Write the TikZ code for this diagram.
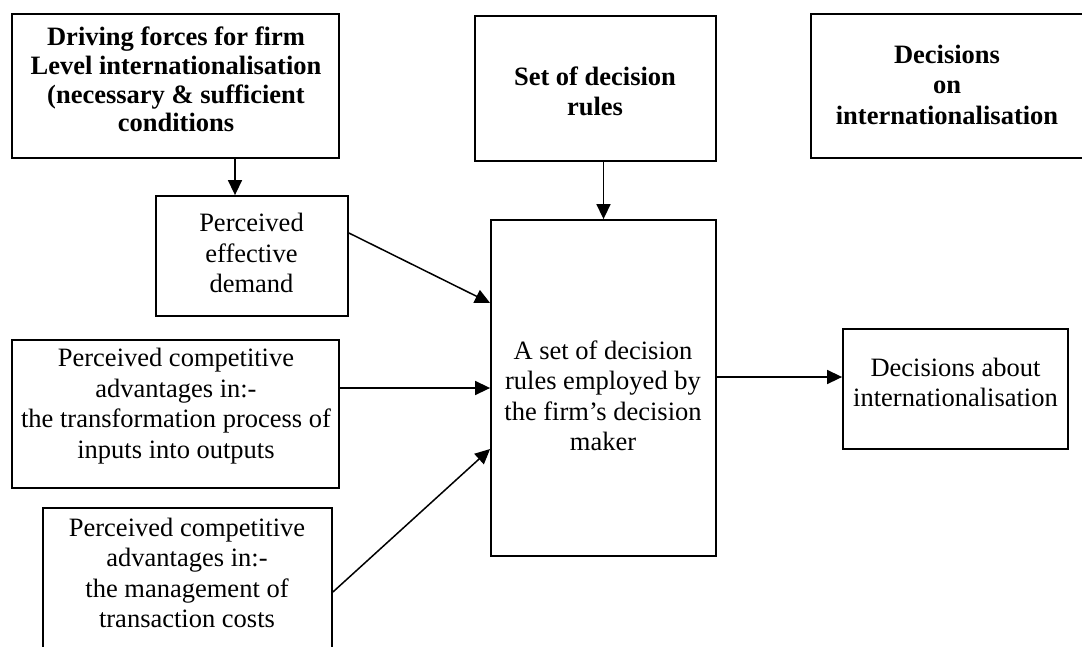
\documentclass[tikz,border=0pt]{standalone}
\usepackage{fontspec}
\setmainfont{Liberation Serif}
\usetikzlibrary{arrows.meta}

\begin{document}
\begin{tikzpicture}[x=1pt,y=-1pt,
  box/.style={draw, line width=1.8pt, inner sep=0pt},
  txt/.style={align=center, inner sep=0pt,
    font=\fontsize{26.5}{30.5}\selectfont},
  head/.style={txt, font=\fontsize{26.5}{30.5}\selectfont\bfseries},
  arr/.style={line width=1.5pt, -{Triangle[length=15pt,width=14pt]}}]

\useasboundingbox[fill=white] (0,0) rectangle (1082,646);

% header boxes
\node[box, minimum width=327pt, minimum height=144pt] (drive) at (175.5,86) {};
\node[head, font=\fontsize{26.5}{28.7}\selectfont\bfseries] (drive-t) at (176,79.5)
  {Driving forces for firm\\Level internationalisation\\(necessary \& sufficient\\conditions};

\node[box, minimum width=241pt, minimum height=145pt] (rules) at (595.5,88.5) {};
\node[head] (rules-t) at (595,91.5) {Set of decision\\rules};

% this box runs past the right edge of the page
\node[box, minimum width=290pt, minimum height=144pt] (decide) at (956,86) {};
\node[head] (decide-t) at (947,84.5) {Decisions\\on\\internationalisation};

% driving forces
\node[box, minimum width=192pt, minimum height=120pt] (demand) at (252,256) {};
\node[txt] (demand-t) at (251.5,253) {Perceived\\effective\\demand};

\node[box, minimum width=327pt, minimum height=148pt] (trans) at (175.5,414) {};
\node[txt] (trans-t) at (176,406)
  {Perceived competitive\\advantages in:-\\the transformation process of\\inputs into outputs};

\node[box, minimum width=289pt, minimum height=172pt] (costs) at (187.5,594) {};
\node[txt] (costs-t) at (187,573)
  {Perceived competitive\\advantages in:-\\the management of\\transaction costs};

% decision maker and outcome
\node[box, minimum width=225pt, minimum height=336pt] (maker) at (603.5,388) {};
\node[txt] (maker-t) at (603,396)
  {A set of decision\\rules employed by\\the firm’s decision\\maker};

\node[box, minimum width=225pt, minimum height=120pt] (outcome) at (955.5,389) {};
\node[txt] (outcome-t) at (955.5,382.5) {Decisions about\\internationalisation};

% connectors
\draw[arr] ([xshift=59.5pt]drive.south) -- ([xshift=59.5pt]drive.south |- demand.north);
\draw[arr] (rules.south -| maker.north) -- (maker.north);
\draw[arr] ([yshift=23pt]demand.east) -- ([yshift=85pt]maker.west);
\draw[arr] (trans.east |- maker.west) -- (maker.west);
\draw[arr] ([yshift=2pt]costs.east) -- ([yshift=-61pt]maker.west);
\draw[arr] ([yshift=11pt]maker.east) -- ([yshift=11pt]maker.east -| outcome.west);
\end{tikzpicture}
\end{document}
